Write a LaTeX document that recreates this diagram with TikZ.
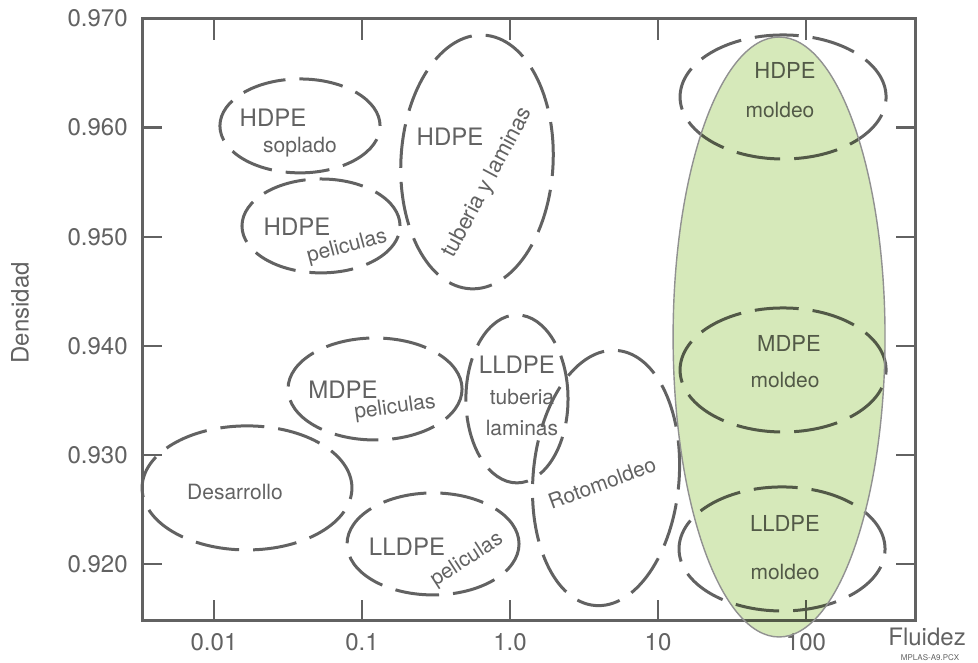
\documentclass[tikz,border=0pt]{standalone}
\usepackage{fontspec}
\setmainfont{TeX Gyre Heros}
\definecolor{gris}{RGB}{98,98,98}
\definecolor{grisclaro}{RGB}{145,145,145}
\definecolor{verde}{RGB}{214,233,186}
\tikzset{
  zona/.style={draw=gris, line width=1.5pt, dash pattern=on 22pt off 7pt},
  eje/.style={draw=gris, line width=1.5pt},
  marca/.style={draw=gris, line width=1.1pt},
  txt/.style={text=gris, inner sep=0pt, font=\fontsize{12}{12}\selectfont},
  txtm/.style={text=gris, inner sep=0pt, font=\fontsize{11}{11}\selectfont},
  txtp/.style={text=gris, inner sep=0pt, font=\fontsize{10.5}{10.5}\selectfont}
}
\begin{document}
\begin{tikzpicture}[x=74pt, y=54.6pt]
    \useasboundingbox (-3.446,-2.903) rectangle (3.162,3.168);

    % ejes
    \draw[eje] (-2.486,-2.51) rectangle (2.743,3.0);
    \foreach \x/\t [count=\i] in {-2/0.01, -1/0.1, 0/1.0, 1/10, 2/100} {
        \draw[marca] (\x,-2.51) -- (\x,-2.33);
        \draw[marca] (\x,3.0) -- (\x,2.8);
        \node[txt, name=fx\i] at (\x,-2.71) {\t};
    }
    \foreach \y/\t [count=\i] in {2/0.960, 1/0.950, 0/0.940, -1/0.930, -2/0.920} {
        \draw[marca] (-2.486,\y) -- (-2.351,\y);
        \draw[marca] (2.743,\y) -- (2.608,\y);
        \node[txt, anchor=east, name=fy\i] at (-2.581,\y) {\t};
    }
    \node[txt, anchor=east] (fy0) at (-2.581,3.0) {0.970};

    \node[txt, rotate=90] (dens) at (-3.311,0.302) {Densidad};
    \node[txt] (flui) at (2.818,-2.665) {Fluidez};
    \node[text=gris, inner sep=0pt, font=\fontsize{4}{4}\selectfont] (ref) at (2.838,-2.857) {MPLAS-A9.PCX};

    % zonas
    \draw[zona] (-1.419,2.015) ellipse [x radius=0.541, y radius=0.430];
    \node[txt] (hdpe1) at (-1.601,2.088) {HDPE};
    \node[txtp] (sopl) at (-1.419,1.822) {soplado};

    \draw[zona] (-1.277,1.099) ellipse [x radius=0.534, y radius=0.430];
    \node[txt] (hdpe2) at (-1.439,1.090) {HDPE};
    \node[txtp, rotate=15] (pel1) at (-1.101,0.907) {peliculas};

    \draw[zona, rotate around={-3:(-0.223,1.685)}] (-0.223,1.685) ellipse [x radius=0.514, y radius=1.163];
    \node[txt] (hdpe3) at (-0.405,1.914) {HDPE};
    \node[txtm, rotate=62] (tub1) at (-0.149,1.493) {tuberia y laminas};

    \draw[zona] (0.047,-0.485) ellipse [x radius=0.345, y radius=0.769];
    \node[txt] (lldpe1) at (0.047,-0.174) {LLDPE};
    \node[txtp] (tub2) at (0.081,-0.467) {tuberia};
    \node[txtp] (lam2) at (0.081,-0.751) {laminas};

    \draw[zona] (-0.912,-0.394) ellipse [x radius=0.588, y radius=0.467];
    \node[txt] (mdpe1) at (-1.128,-0.403) {MDPE};
    \node[txtp, rotate=8] (pel2) at (-0.777,-0.568) {peliculas};

    \draw[zona] (-1.777,-1.300) ellipse [x radius=0.709, y radius=0.568];
    \node[txtp] (desa) at (-1.858,-1.337) {Desarrollo};

    \draw[zona] (-0.520,-1.813) ellipse [x radius=0.581, y radius=0.467];
    \node[txt] (lldpe2) at (-0.696,-1.841) {LLDPE};
    \node[txtp, rotate=33] (pel3) at (-0.291,-1.960) {peliculas};

    \draw[zona, rotate around={-5:(0.649,-1.209)}] (0.649,-1.209) ellipse [x radius=0.493, y radius=1.172];
    \node[txtp, rotate=20] (roto) at (0.622,-1.255) {Rotomoldeo};

    % moldeo
    \draw[zona] (1.845,2.280) ellipse [x radius=0.696, y radius=0.568];
    \node[txtm] (hdpe4) at (1.858,2.527) {HDPE};
    \node[txtp] (mold1) at (1.824,2.161) {moldeo};

    \draw[zona] (1.845,-0.220) ellipse [x radius=0.696, y radius=0.568];
    \node[txtm] (mdpe2) at (1.885,0.027) {MDPE};
    \node[txtp] (mold2) at (1.858,-0.311) {moldeo};

    \draw[zona] (1.838,-1.859) ellipse [x radius=0.696, y radius=0.568];
    \node[txtm] (lldpe3) at (1.858,-1.630) {LLDPE};
    \node[txtp] (mold3) at (1.858,-2.070) {moldeo};

    % zona resaltada
    \fill[verde, blend mode=multiply] (1.818,0.082) ellipse [x radius=0.716, y radius=2.747];
    \draw[grisclaro, line width=0.7pt] (1.818,0.082) ellipse [x radius=0.716, y radius=2.747];
\end{tikzpicture}
\end{document}
